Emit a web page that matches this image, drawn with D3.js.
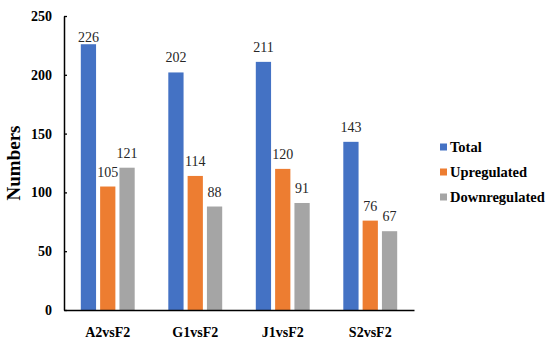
<!DOCTYPE html>
<html>
<head>
<meta charset="utf-8">
<script src="https://cdn.jsdelivr.net/npm/d3@7"></script>
<style>
  body { margin: 0; background: #fff; }
  svg { display: block; font-family: "Liberation Serif", "Times New Roman", serif; }
</style>
</head>
<body>
<div id="chart"></div>
<script>
const categories = ['A2vsF2', 'G1vsF2', 'J1vsF2', 'S2vsF2'];
const seriesNames = ['Total', 'Upregulated', 'Downregulated'];
const total = [226, 202, 211, 143];
const upregulated = [105, 114, 120, 76];
const downregulated = [121, 88, 91, 67];
const yTicks = [0, 50, 100, 150, 200, 250];

const width = 550, height = 342;
const margin = { top: 16, left: 64, right: 136, bottom: 32 };
const colors = ['#4472C4', '#ED7D31', '#A5A5A5'];

const svg = d3.select('#chart')
  .append('svg')
  .attr('width', width)
  .attr('height', height);

const x = d3.scaleBand()
  .domain(categories)
  .range([margin.left, width - margin.right]);

const xInner = d3.scaleBand()
  .domain(seriesNames)
  .range([0, x.bandwidth()])
  .paddingInner(0.21)
  .paddingOuter(0.87);

const y = d3.scaleLinear()
  .domain([0, 250])
  .range([height - margin.bottom, margin.top]);

// rows for the grouped bars
const values = [total, upregulated, downregulated];
const rows = categories.map((c, i) => ({
  cat: c,
  bars: seriesNames.map((s, j) => ({ series: s, value: values[j][i], color: colors[j] }))
}));

const groups = svg.selectAll('.grp')
  .data(rows)
  .enter().append('g')
  .attr('class', 'grp')
  .attr('transform', d => `translate(${x(d.cat)},0)`);

groups.selectAll('rect')
  .data(d => d.bars)
  .enter().append('rect')
  .attr('x', d => xInner(d.series))
  .attr('y', d => y(d.value))
  .attr('width', xInner.bandwidth())
  .attr('height', d => y(0) - y(d.value))
  .attr('fill', d => d.color);

groups.selectAll('text')
  .data(d => d.bars)
  .enter().append('text')
  .attr('x', d => xInner(d.series) + xInner.bandwidth() / 2)
  .attr('y', d => Math.max(y(d.value) - 10, 42))
  .attr('text-anchor', 'middle')
  .attr('font-size', 14)
  .attr('fill', '#262626')
  .text(d => d.value);

// y axis
const yAxis = svg.append('g')
  .attr('transform', `translate(${margin.left},0)`)
  .call(d3.axisLeft(y).tickValues(yTicks).tickSize(-3).tickSizeOuter(0).tickPadding(12));
yAxis.select('.domain').attr('stroke', '#000').attr('stroke-width', 1.5);
yAxis.selectAll('.tick line').attr('stroke', '#000').attr('stroke-width', 1.3);
yAxis.selectAll('.tick text')
  .attr('font-family', '"Liberation Serif", serif')
  .attr('font-size', 14)
  .attr('font-weight', 'bold')
  .attr('fill', '#000');

// x axis
const xAxis = svg.append('g')
  .attr('transform', `translate(0,${y(0)})`)
  .call(d3.axisBottom(x).tickSize(0).tickPadding(17));
xAxis.select('.domain').attr('stroke', '#000').attr('stroke-width', 1.5);
xAxis.selectAll('.tick text')
  .attr('font-family', '"Liberation Serif", serif')
  .attr('font-size', 14)
  .attr('font-weight', 'bold')
  .attr('fill', '#000');

// y title
svg.append('text')
  .attr('transform', `translate(20,${(y(0) + y(250)) / 2}) rotate(-90)`)
  .attr('text-anchor', 'middle')
  .attr('font-size', 19)
  .attr('font-weight', 'bold')
  .text('Numbers');

// legend
const legend = svg.selectAll('.leg')
  .data(seriesNames)
  .enter().append('g')
  .attr('class', 'leg')
  .attr('transform', (d, i) => `translate(440,${147 + i * 25})`);

legend.append('rect')
  .attr('x', 0)
  .attr('y', -3.5)
  .attr('width', 7)
  .attr('height', 7)
  .attr('fill', (d, i) => colors[i]);

legend.append('text')
  .attr('x', 10)
  .attr('y', 5)
  .attr('font-size', 14.5)
  .attr('font-weight', 'bold')
  .attr('fill', '#000')
  .text(d => d);
</script>
</body>
</html>
